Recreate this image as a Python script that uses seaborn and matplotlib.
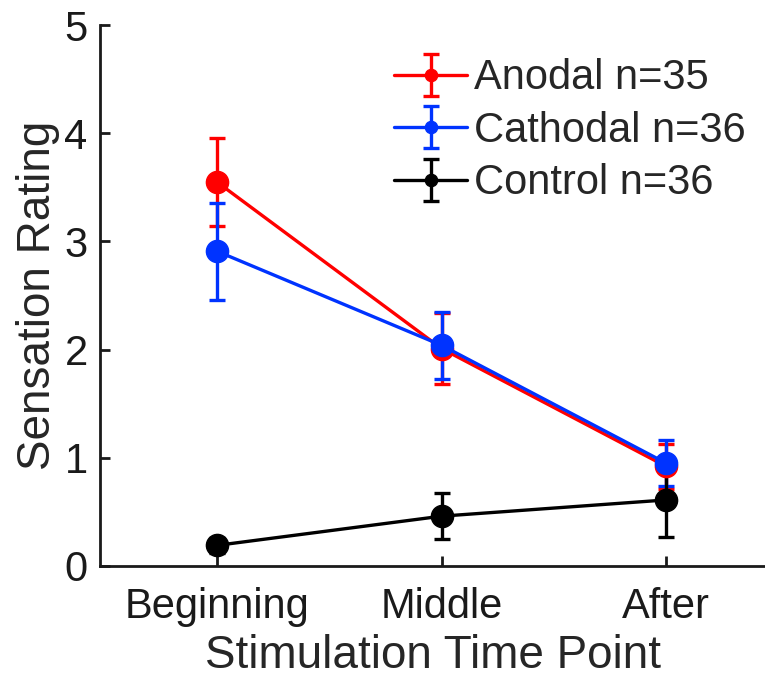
import numpy as np
import pandas as pd
import seaborn as sns
import matplotlib.pyplot as plt

# values
time_points = ["Beginning", "Middle", "After"]
groups = ["Anodal n=35", "Cathodal n=36", "Control n=36"]
anodal_mean = [3.55, 2.01, 0.92]
anodal_err = [0.41, 0.33, 0.21]
cathodal_mean = [2.91, 2.04, 0.95]
cathodal_err = [0.45, 0.31, 0.21]
control_mean = [0.19, 0.46, 0.61]
control_err = [0.07, 0.21, 0.34]
colors = ["#ff0000", "#0033ff", "#000000"]

df = pd.DataFrame({
    "time": time_points * 3,
    "x": [1, 2, 3] * 3,
    "group": np.repeat(groups, 3),
    "mean": anodal_mean + cathodal_mean + control_mean,
    "err": anodal_err + cathodal_err + control_err,
})

sns.set_style("ticks")
plt.rcParams["font.family"] = ["Liberation Sans", "DejaVu Sans"]

fig = plt.figure(figsize=(7.65, 6.81), dpi=100)
ax = fig.add_axes([0.131, 0.169, 0.869, 0.794])

for g, c in zip(groups, colors):
    d = df[df["group"] == g]
    ax.errorbar(d["x"], d["mean"], yerr=d["err"], color=c, marker="o",
                markersize=16, linewidth=2.4, elinewidth=2.4, capsize=6,
                capthick=2.4, label=g)

ax.set_xlim(0.48, 3.44)
ax.set_ylim(0, 5)
ax.set_xticks([1, 2, 3])
ax.set_xticklabels(time_points)
ax.set_yticks(range(6))
ax.tick_params(direction="in", length=7, width=2, labelsize=30, pad=9,
               colors="#1a1a1a")
ax.tick_params(axis="x", pad=15)
for s in ["left", "bottom"]:
    ax.spines[s].set_linewidth(2)
    ax.spines[s].set_color("#1a1a1a")
sns.despine(ax=ax)

ax.set_xlabel("Stimulation Time Point", fontsize=33, labelpad=5)
ax.set_ylabel("Sensation Rating", fontsize=33, labelpad=3)

ax.legend(loc="upper left", bbox_to_anchor=(0.405, 0.985), frameon=False,
          fontsize=30, handlelength=1.75, handletextpad=0.15,
          labelspacing=0.3, borderaxespad=0.2, markerscale=0.55)

fig.savefig("out.png", dpi=100)
